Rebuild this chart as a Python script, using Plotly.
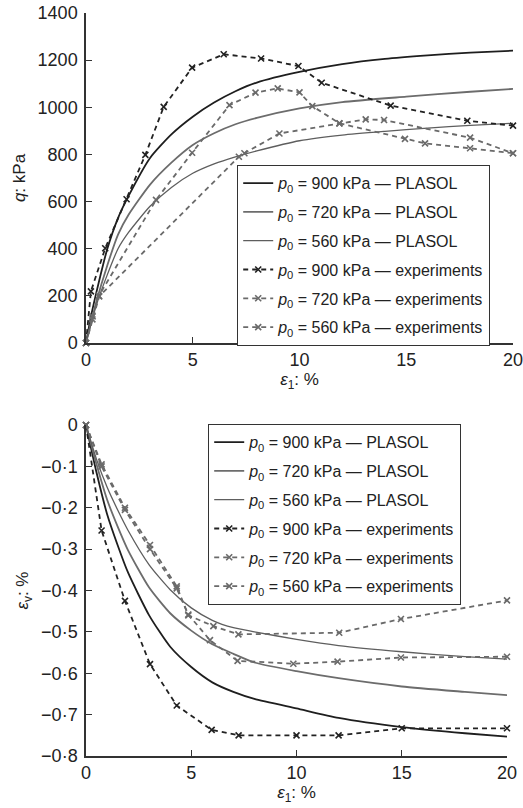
import plotly.graph_objects as go

# ---------------- data: top panel (q vs eps1) ----------------
q_pl900_x = [0, 0.25, 0.5, 1, 1.5, 2, 3, 4, 5, 6, 7, 8, 10, 12, 14, 16, 18, 20]
q_pl900_y = [0, 120, 220, 400, 530, 625, 785, 885, 960, 1020, 1068, 1105, 1150, 1183, 1205, 1220, 1232, 1240]
q_pl720_x = [0, 0.5, 1, 1.5, 2, 3, 4, 5, 6, 7, 8, 10, 12, 15, 18, 20]
q_pl720_y = [0, 180, 330, 460, 545, 672, 765, 840, 890, 928, 955, 995, 1022, 1045, 1066, 1078]
q_pl560_x = [0, 0.5, 1, 1.5, 2, 3, 4, 5, 6, 7, 8, 10, 12, 14, 16, 18, 20]
q_pl560_y = [0, 165, 290, 400, 470, 580, 660, 720, 760, 790, 815, 858, 882, 898, 912, 923, 932]

q_ex900_x = [0, 0.23, 0.9, 1.9, 2.78, 3.64, 4.97, 6.45, 8.2, 9.95, 11.04, 14.27, 17.86, 20]
q_ex900_y = [0, 219, 402, 610, 798, 1002, 1168, 1225, 1207, 1175, 1104, 1007, 943, 922]
q_ex720_x = [0, 0.31, 0.6, 3.28, 4.97, 6.72, 7.94, 8.98, 10, 10.6, 11.87, 14.94, 15.88, 17.99, 20]
q_ex720_y = [0, 113, 200, 607, 807, 1009, 1062, 1080, 1063, 1005, 932, 866, 847, 826, 805]
q_ex560_x = [0, 0.3, 0.62, 7.16, 7.42, 9.06, 11.87, 13.1, 13.96, 17.99, 20]
q_ex560_y = [0, 100, 198, 790, 805, 889, 932, 949, 946, 871, 805]

# ---------------- data: bottom panel (eps_v vs eps1) ----------------
v_pl900_x = [0, 0.5, 1, 1.5, 2, 3, 4, 5, 6, 7, 8, 10, 12, 15, 18, 20]
v_pl900_y = [0, -0.115, -0.215, -0.29, -0.357, -0.46, -0.536, -0.585, -0.622, -0.645, -0.662, -0.685, -0.708, -0.73, -0.745, -0.753]
v_pl720_x = [0, 0.5, 1, 1.5, 2, 3, 4, 5, 6, 7, 8, 10, 12, 15, 18, 20]
v_pl720_y = [0, -0.095, -0.18, -0.245, -0.303, -0.393, -0.455, -0.497, -0.53, -0.553, -0.574, -0.595, -0.612, -0.632, -0.645, -0.653]
v_pl560_x = [0, 0.5, 1, 1.5, 2, 3, 4, 5, 6, 7, 8, 10, 12, 15, 18, 20]
v_pl560_y = [0, -0.083, -0.15, -0.205, -0.255, -0.338, -0.398, -0.442, -0.472, -0.49, -0.5, -0.518, -0.533, -0.548, -0.56, -0.566]

v_ex900_x = [0, 0.74, 1.85, 3.04, 4.31, 5.97, 7.25, 10, 12, 15, 20]
v_ex900_y = [0, -0.255, -0.425, -0.578, -0.678, -0.737, -0.75, -0.75, -0.75, -0.733, -0.733]
v_ex720_x = [0, 0.74, 1.85, 3.04, 4.31, 4.86, 5.89, 7.2, 9.85, 11.95, 14.96, 20]
v_ex720_y = [0, -0.10, -0.205, -0.30, -0.395, -0.458, -0.52, -0.57, -0.577, -0.572, -0.562, -0.56]
v_ex560_x = [0, 0.74, 1.85, 3.04, 4.31, 4.86, 6.05, 7.24, 12.03, 14.96, 20]
v_ex560_y = [0, -0.095, -0.2, -0.29, -0.39, -0.46, -0.486, -0.506, -0.502, -0.469, -0.424]

legend_names = [
    "<i>p</i><sub>0</sub> = 900 kPa — PLASOL",
    "<i>p</i><sub>0</sub> = 720 kPa — PLASOL",
    "<i>p</i><sub>0</sub> = 560 kPa — PLASOL",
    "<i>p</i><sub>0</sub> = 900 kPa — experiments",
    "<i>p</i><sub>0</sub> = 720 kPa — experiments",
    "<i>p</i><sub>0</sub> = 560 kPa — experiments",
]
x_ticks = [0, 5, 10, 15, 20]
q_ticks = [0, 200, 400, 600, 800, 1000, 1200, 1400]
v_ticks = [0, -0.1, -0.2, -0.3, -0.4, -0.5, -0.6, -0.7, -0.8]
v_ticktext = ["0", "−0·1", "−0·2", "−0·3", "−0·4", "−0·5", "−0·6", "−0·7", "−0·8"]

# ---------------- styles ----------------
W, H = 523, 808
FONT = "Liberation Sans, Arial, sans-serif"
styles = [
    dict(color="#1e1e1e", width=1.8, dash="solid"),
    dict(color="#6c6c6c", width=1.8, dash="solid"),
    dict(color="#5e5e5e", width=1.3, dash="solid"),
    dict(color="#222222", width=1.8, dash="5px,4px"),
    dict(color="#6a6a6a", width=1.8, dash="5px,4px"),
    dict(color="#6a6a6a", width=1.8, dash="5px,4px"),
]

fig = go.Figure()

top_series = [(q_pl900_x, q_pl900_y), (q_pl720_x, q_pl720_y), (q_pl560_x, q_pl560_y),
              (q_ex900_x, q_ex900_y), (q_ex720_x, q_ex720_y), (q_ex560_x, q_ex560_y)]
bot_series = [(v_pl900_x, v_pl900_y), (v_pl720_x, v_pl720_y), (v_pl560_x, v_pl560_y),
              (v_ex900_x, v_ex900_y), (v_ex720_x, v_ex720_y), (v_ex560_x, v_ex560_y)]

for panel, series, xa, ya, leg in [("t", top_series, "x", "y", "legend"),
                                    ("b", bot_series, "x2", "y2", "legend2")]:
    for i, (xs, ys) in enumerate(series):
        st = styles[i]
        exp = i >= 3
        fig.add_trace(go.Scatter(
            x=xs, y=ys, xaxis=xa, yaxis=ya,
            mode="lines+markers" if exp else "lines",
            line=dict(color=st["color"], width=st["width"], dash=st["dash"],
                      shape="linear" if exp else "spline", smoothing=0.6),
            marker=dict(symbol="x-thin", size=6, line=dict(width=1.6, color=st["color"]),
                        color=st["color"]),
            name=legend_names[i], legend=leg, legendgroup=panel + str(i),
            showlegend=True, cliponaxis=False,
        ))

def px_x(p):
    return p / W

def px_y(p):
    return 1 - p / H

axis_common = dict(
    showline=True, linecolor="#333333", linewidth=1.5,
    ticks="inside", ticklen=6, tickwidth=1.3, tickcolor="#333333",
    showgrid=False, zeroline=False, mirror=False, automargin=False,
    ticklabeloverflow="allow",
    tickfont=dict(family=FONT, size=18, color="#222222"),
)

fig.update_layout(
    width=W, height=H,
    margin=dict(l=0, r=0, t=0, b=0, autoexpand=False),
    paper_bgcolor="white", plot_bgcolor="white",
    font=dict(family=FONT, size=16, color="#222222"),
    xaxis=dict(domain=[px_x(86), px_x(513)], range=[0, 20], anchor="y",
               tickvals=x_ticks,
               title=dict(text="<i>ε</i><sub>1</sub>: %", standoff=2,
                          font=dict(family=FONT, size=17)),
               **axis_common),
    yaxis=dict(domain=[px_y(343), px_y(13)], range=[0, 1400], anchor="x",
               tickvals=q_ticks, ticklabelstandoff=3,
               title=dict(text="<i>q</i>: kPa", standoff=8,
                          font=dict(family=FONT, size=17)),
               **axis_common),
    xaxis2=dict(domain=[px_x(86), px_x(507)], range=[0, 20], anchor="y2",
                tickvals=x_ticks,
                title=dict(text="<i>ε</i><sub>1</sub>: %", standoff=2,
                           font=dict(family=FONT, size=17)),
                **axis_common),
    yaxis2=dict(domain=[px_y(756), px_y(425)], range=[-0.8, 0], anchor="x2",
                tickvals=v_ticks, ticktext=v_ticktext, ticklabelstandoff=3,
                title=dict(text="<i>ε</i><sub>v</sub>: %", standoff=8,
                           font=dict(family=FONT, size=17)),
                **axis_common),
    legend=dict(x=px_x(237), y=px_y(165), xanchor="left", yanchor="top",
                bgcolor="white", bordercolor="#333333", borderwidth=1.2,
                font=dict(family=FONT, size=16, color="#222222"),
                traceorder="grouped", tracegroupgap=5, itemwidth=30),
    legend2=dict(x=px_x(208), y=px_y(424), xanchor="left", yanchor="top",
                 bgcolor="white", bordercolor="#333333", borderwidth=1.2,
                 font=dict(family=FONT, size=16, color="#222222"),
                 traceorder="grouped", tracegroupgap=5, itemwidth=30),
    showlegend=True,
)

fig.write_html("out.html", config={"displayModeBar": False},
               post_script="document.body.style.margin='0px';")
